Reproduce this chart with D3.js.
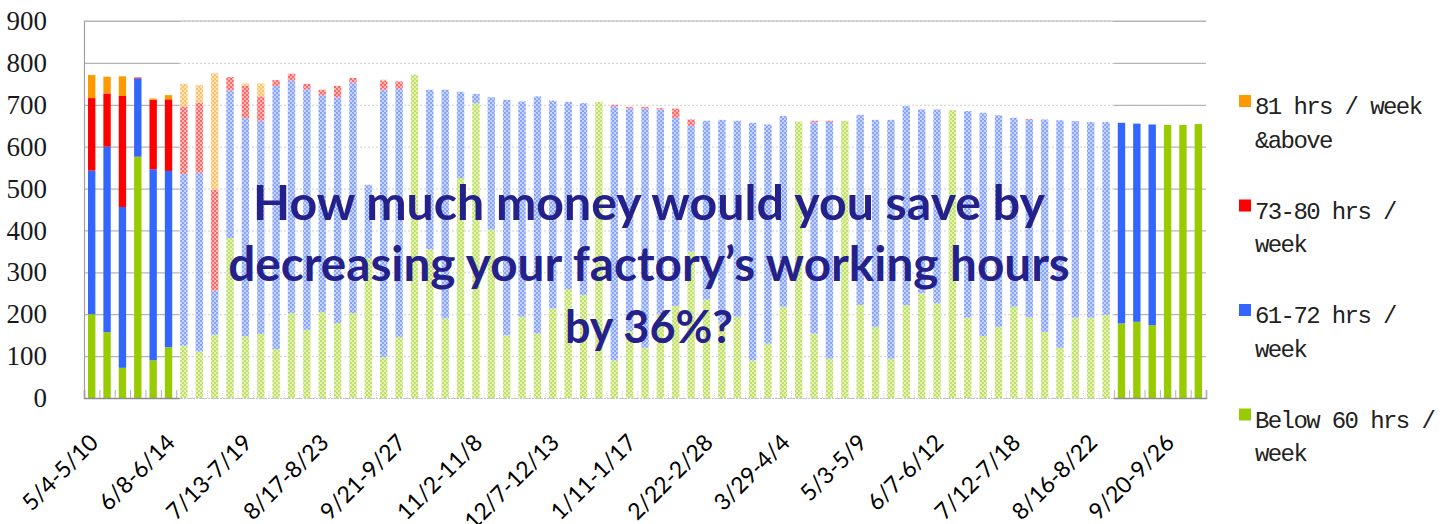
<!DOCTYPE html>
<html>
<head>
<meta charset="utf-8">
<script src="https://cdn.jsdelivr.net/npm/d3@7"></script>
<style>
  html, body { margin: 0; padding: 0; background: #fff; }
  svg { display: block; }
</style>
</head>
<body>
<svg id="chart" width="1451" height="524"></svg>
<script>
// weekly categories (only every 5th one is labelled on the axis)
const weeks = [
  '5/4-5/10', '5/11-5/17', '5/18-5/24', '5/25-5/31', '6/1-6/7',
  '6/8-6/14', '6/15-6/21', '6/22-6/28', '6/29-7/5', '7/6-7/12',
  '7/13-7/19', '7/20-7/26', '7/27-8/2', '8/3-8/9', '8/10-8/16',
  '8/17-8/23', '8/24-8/30', '8/31-9/6', '9/7-9/13', '9/14-9/20',
  '9/21-9/27', '9/28-10/4', '10/12-10/18', '10/19-10/25', '10/26-11/1',
  '11/2-11/8', '11/9-11/15', '11/16-11/22', '11/23-11/29', '11/30-12/6',
  '12/7-12/13', '12/14-12/20', '12/21-12/27', '12/28-1/3', '1/4-1/10',
  '1/11-1/17', '1/18-1/24', '1/25-1/31', '2/1-2/7', '2/8-2/14',
  '2/22-2/28', '3/1-3/7', '3/8-3/14', '3/15-3/21', '3/22-3/28',
  '3/29-4/4', '4/5-4/11', '4/12-4/18', '4/19-4/25', '4/26-5/2',
  '5/3-5/9', '5/10-5/16', '5/17-5/23', '5/24-5/30', '5/31-6/6',
  '6/7-6/12', '6/14-6/20', '6/21-6/27', '6/28-7/4', '7/5-7/11',
  '7/12-7/18', '7/19-7/25', '7/26-8/1', '8/2-8/8', '8/9-8/15',
  '8/16-8/22', '8/23-8/29', '8/30-9/5', '9/6-9/12', '9/13-9/19',
  '9/20-9/26', '9/27-10/3', '10/4-10/10'
];

const below60 = [
  200, 157, 72, 576, 90, 121, 125, 111, 151, 382,
  147, 153, 117, 203, 163, 205, 179, 203, 334, 98,
  146, 772, 355, 190, 525, 704, 402, 150, 194, 154,
  214, 260, 246, 707, 90, 160, 120, 200, 220, 350,
  235, 180, 194, 90, 130, 218, 660, 154, 94, 662,
  222, 170, 94, 222, 250, 226, 687, 192, 148, 170,
  218, 192, 158, 120, 192, 192, 198, 178, 182, 174,
  652, 652, 654
];
const hrs61to72 = [
  343, 443, 384, 187, 456, 421, 410, 427, 106, 352,
  521, 509, 628, 555, 574, 518, 539, 550, 175, 638,
  592, 0, 381, 546, 206, 22, 316, 562, 514, 566,
  496, 447, 458, 0, 606, 531, 571, 489, 449, 300,
  427, 484, 468, 567, 523, 455, 0, 504, 565, 0,
  454, 494, 570, 475, 439, 463, 0, 493, 533, 505,
  451, 472, 507, 543, 469, 467, 461, 479, 473, 479,
  0, 0, 0
];
const hrs73to80 = [
  173, 127, 265, 2, 166, 171, 161, 167, 240, 32,
  77, 58, 14, 16, 13, 13, 27, 11, 0, 22,
  18, 0, 0, 0, 0, 0, 0, 0, 0, 0,
  0, 0, 0, 0, 4, 4, 4, 3, 22, 15,
  0, 0, 0, 0, 0, 0, 0, 4, 3, 0,
  0, 0, 0, 0, 0, 0, 0, 0, 0, 0,
  0, 2, 0, 0, 0, 0, 0, 0, 0, 0,
  0, 0, 0
];
const hrs81up = [
  55, 40, 47, 0, 3, 10, 54, 42, 278, 0,
  6, 31, 0, 0, 0, 0, 0, 0, 0, 2,
  0, 0, 0, 0, 0, 0, 0, 0, 0, 0,
  0, 0, 0, 0, 0, 0, 0, 0, 0, 0,
  0, 0, 0, 0, 0, 0, 0, 0, 0, 0,
  0, 0, 0, 0, 0, 0, 0, 0, 0, 0,
  0, 0, 0, 0, 0, 0, 0, 0, 0, 0,
  0, 0, 0
];

const yTicks = [0, 100, 200, 300, 400, 500, 600, 700, 800, 900];
const legendLines = [
  ['81 hrs / week', '&above'],
  ['73-80 hrs /', 'week'],
  ['61-72 hrs /', 'week'],
  ['Below 60 hrs /', 'week']
];
const question = [
  'How much money would you save by',
  'decreasing your factory\u2019s working hours',
  'by 36%?'
];

const keys = ['below60', 'hrs61to72', 'hrs73to80', 'hrs81up'];
const colors = { below60: '#99cc00', hrs61to72: '#3366ff', hrs73to80: '#ff0000', hrs81up: '#ff9900' };
const legendKeys = ['hrs81up', 'hrs73to80', 'hrs61to72', 'below60'];

// the middle weeks are washed out in the picture
const fadeFirst = 6, fadeLast = 66;

const table = weeks.map((w, i) => ({
  week: w,
  below60: below60[i],
  hrs61to72: hrs61to72[i],
  hrs73to80: hrs73to80[i],
  hrs81up: hrs81up[i]
}));

const svg = d3.select('#chart');
const plotLeft = 84, plotRight = 1206, plotTop = 21, plotBottom = 398;

const x = d3.scaleBand()
  .domain(weeks)
  .range([plotLeft, plotRight])
  .paddingInner(0.52)
  .paddingOuter(0.26);

// band boundaries, used for the little tick marks
const xEdge = d3.scaleLinear().domain([0, weeks.length]).range([plotLeft, plotRight]);

const y = d3.scaleLinear()
  .domain([0, 900])
  .range([plotBottom, plotTop]);

const fadeL = x(weeks[fadeFirst]) - 0.5;
const fadeR = xEdge(fadeLast + 1);

// washed-out patterns
const defs = svg.append('defs');
keys.forEach(k => {
  const light = d3.interpolateRgb(colors[k], '#fff')(0.72);
  const mid = d3.interpolateRgb(colors[k], '#fff')(0.4);
  const p = defs.append('pattern')
    .attr('id', 'fade-' + k)
    .attr('patternUnits', 'userSpaceOnUse')
    .attr('width', 4).attr('height', 4);
  p.append('rect').attr('width', 4).attr('height', 4).attr('fill', light);
  p.append('rect').attr('width', 2).attr('height', 2).attr('fill', mid);
  p.append('rect').attr('x', 2).attr('y', 2).attr('width', 2).attr('height', 2).attr('fill', mid);
});

const clipSolid = defs.append('clipPath').attr('id', 'clip-solid');
clipSolid.append('rect').attr('x', 0).attr('y', 0).attr('width', fadeL).attr('height', 524);
clipSolid.append('rect').attr('x', fadeR).attr('y', 0).attr('width', 1451 - fadeR).attr('height', 524);
defs.append('clipPath').attr('id', 'clip-fade')
  .append('rect').attr('x', fadeL).attr('y', 0).attr('width', fadeR - fadeL).attr('height', 524);

// gridlines
function grid(g) {
  g.call(d3.axisLeft(y).tickValues(yTicks).tickSize(-(plotRight - plotLeft)).tickFormat(''))
    .call(g => g.select('.domain').remove());
}
svg.append('g')
  .attr('clip-path', 'url(#clip-solid)')
  .append('g')
  .attr('transform', `translate(${plotLeft},0)`)
  .call(grid)
  .selectAll('line').attr('stroke', '#b4b4b4').attr('stroke-width', 1.2);
svg.append('g')
  .attr('clip-path', 'url(#clip-fade)')
  .append('g')
  .attr('transform', `translate(${plotLeft},0)`)
  .call(grid)
  .selectAll('line').attr('stroke', '#cfcfcf').attr('stroke-dasharray', '2,2');

// top border
svg.append('line')
  .attr('x1', plotLeft).attr('x2', plotRight)
  .attr('y1', y(900)).attr('y2', y(900))
  .attr('stroke', '#b4b4b4').attr('stroke-width', 1.2);

// stacked bars
const stacked = d3.stack().keys(keys)(table);
svg.append('g')
  .selectAll('g')
  .data(stacked)
  .join('g')
  .each(function(layer) {
    const k = layer.key;
    d3.select(this).selectAll('rect')
      .data(layer.filter(d => d[1] - d[0] > 0))
      .join('rect')
      .attr('x', d => x(d.data.week))
      .attr('width', x.bandwidth())
      .attr('y', d => y(d[1]))
      .attr('height', d => y(d[0]) - y(d[1]))
      .attr('fill', d => {
        const i = weeks.indexOf(d.data.week);
        return (i >= fadeFirst && i <= fadeLast) ? `url(#fade-${k})` : colors[k];
      });
  });

// bottom axis line + small ticks between weeks
function baseAxis(g) {
  g.call(d3.axisBottom(xEdge).tickValues(d3.range(1, weeks.length + 1)).tickSize(-8).tickFormat(''));
}
const baseSolid = svg.append('g')
  .attr('clip-path', 'url(#clip-solid)')
  .append('g')
  .attr('transform', `translate(0,${plotBottom})`)
  .call(baseAxis);
baseSolid.select('.domain').attr('stroke', '#8c8c8c').attr('stroke-width', 1.5);
baseSolid.selectAll('.tick line').attr('stroke', '#b0b0b0');
const baseFade = svg.append('g')
  .attr('clip-path', 'url(#clip-fade)')
  .append('g')
  .attr('transform', `translate(0,${plotBottom})`)
  .call(baseAxis);
baseFade.select('.domain').attr('stroke', '#c4c4c4').attr('stroke-dasharray', '2,1');
baseFade.selectAll('.tick line').attr('stroke', '#d6d6d6').attr('stroke-dasharray', '1,1');

// left axis
const yAxis = svg.append('g')
  .attr('transform', `translate(${plotLeft},0)`)
  .call(d3.axisLeft(y).tickValues(yTicks).tickSize(0).tickPadding(37));
yAxis.select('.domain').attr('stroke', '#a0a0a0').attr('stroke-width', 1.2);
yAxis.selectAll('text')
  .attr('font-family', '"Liberation Serif", serif')
  .attr('font-size', 27)
  .attr('fill', '#1a1a1a');

// week labels
const xAxis = svg.append('g')
  .attr('transform', `translate(0,${plotBottom})`)
  .call(d3.axisBottom(x).tickValues(weeks.filter((d, i) => i % 5 === 0)).tickSize(0));
xAxis.select('.domain').remove();
xAxis.selectAll('text')
  .attr('x', 0).attr('y', 0).attr('dy', 0)
  .attr('text-anchor', 'end')
  .attr('transform', 'translate(8,46) rotate(-45)')
  .attr('font-family', 'Lato, "Open Sans", sans-serif')
  .attr('font-size', 23)
  .attr('fill', '#000');

// overlay question
const qWidths = [792, 842, 168];
const qBase = [220, 281, 343];
question.forEach((line, i) => {
  const t = svg.append('text')
    .attr('x', 649).attr('y', qBase[i])
    .attr('text-anchor', 'middle')
    .attr('font-family', 'Lato, "Open Sans", sans-serif')
    .attr('font-weight', 700)
    .attr('font-size', 44)
    .attr('fill', '#25218a')
    .text(line);
  const w = t.node().getComputedTextLength();
  t.attr('font-size', 44 * qWidths[i] / w);
});

// legend
const legend = svg.append('g').attr('transform', 'translate(1239,0)');
legendKeys.forEach((k, i) => {
  const by = 114 + i * 104.5;
  legend.append('rect')
    .attr('x', 0).attr('y', by - 19)
    .attr('width', 12).attr('height', 12)
    .attr('fill', colors[k]);
  legendLines[i].forEach((ln, j) => {
    legend.append('text')
      .attr('x', 16).attr('y', by + j * 33.5)
      .attr('font-family', '"Liberation Mono", monospace')
      .attr('font-size', 24)
      .attr('letter-spacing', -1.6)
      .attr('fill', '#222')
      .text(ln);
  });
});
</script>
</body>
</html>
